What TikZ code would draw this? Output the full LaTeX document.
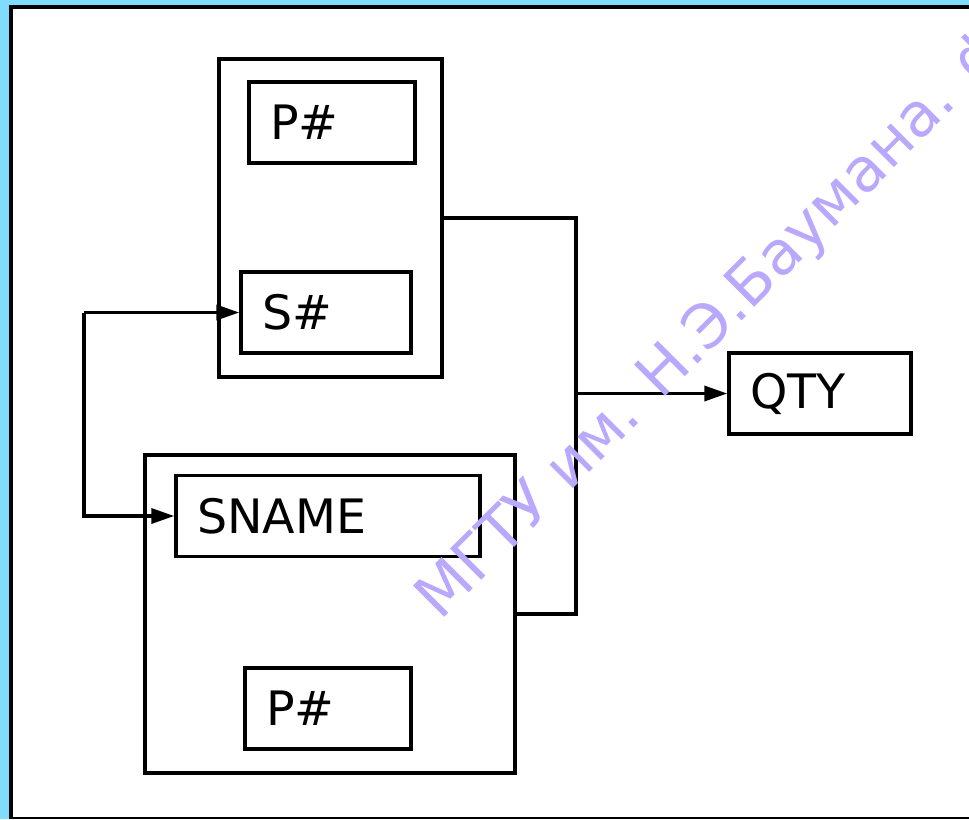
\documentclass[tikz,border=0pt]{standalone}
\usepackage{fontspec}
\setmainfont{DejaVu Sans}
\newfontfamily\wmfont{DejaVu Sans}
\usetikzlibrary{arrows.meta,positioning}

\definecolor{band}{RGB}{128,220,255}
\definecolor{wmark}{RGB}{185,168,252}

\tikzset{
    wire/.style={line width=0.07cm},
    arr/.style={wire, -{Triangle[length=0.46cm,width=0.3cm]}},
    record/.style={draw, line width=0.07cm, minimum height=6.36cm},
    field/.style={draw, line width=0.07cm, minimum height=1.62cm, inner xsep=0.42cm,
        align=left, font=\fontsize{27}{30}\selectfont}
}

\begin{document}
\begin{tikzpicture}[x=0.02cm, y=-0.02cm]
        \useasboundingbox (0,0) rectangle (969,819);
        \clip (0,0) rectangle (969,819);

        % Rahmen
        \fill[band] (0,0) rectangle (969,819);
        \fill[white] (9,5) rectangle (969,819);
        \draw[line width=0.07cm] (10.8,819) -- (10.8,7) -- (969,7); % links, oben
        \draw[line width=0.05cm] (9,818) -- (969,818); % unten

        % Obere Tabelle
        \node[record, minimum width=4.46cm] (upper) at (330.5,218) {};
        \node[field, text width=2.48cm] (pa) at (332,122.5) {P\#};
        \node[field, text width=2.56cm] (sa) at (326,312.5) {S\#};

        % Untere Tabelle
        \node[record, minimum width=7.4cm] (lower) at (330,614) {};
        \node[field, text width=5.24cm] (sname) at (328,516) {SNAME};
        \node[field, text width=2.48cm] (pb) at (328,708.5) {P\#};

        % Ergebnis
        \node[field, text width=2.8cm] (qty) at (820,393.5) {QTY};

        % Verbindungen
        \coordinate (split) at (84,312.5);
        \coordinate (bus) at (576,393.5);
        \draw[arr] (split) -- (sa.west);
        \draw[arr] (split) |- (sname.west);
        \draw[wire] (upper.east) -| (bus) |- (lower.east);
        \draw[arr] (bus) -- (qty.west);

        % Wasserzeichen
        \node[wmark, anchor=base west, rotate=45, inner sep=0pt,
            font=\wmfont\fontsize{34.5}{37}\selectfont] (wm) at (440,622) {МГТУ им. Н.Э.Баумана. ф};

    \end{tikzpicture}
\end{document}
